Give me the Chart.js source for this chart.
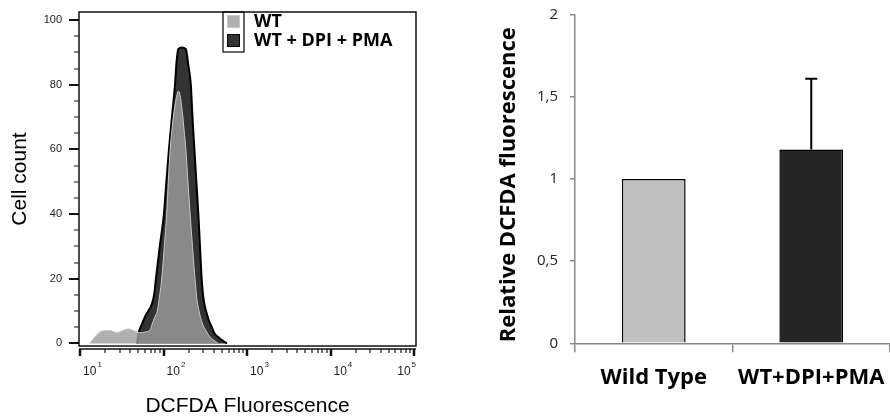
<!DOCTYPE html>
<html>
<head>
<meta charset="utf-8">
<script src="https://cdn.jsdelivr.net/npm/chart.js@4.4.1/dist/chart.umd.min.js"></script>
<style>
  body { margin: 0; background: #fff; overflow: hidden; }
  #wrap { position: relative; width: 890px; height: 419px; }
  #histo { position: absolute; left: 0; top: 0; }
  #bars { position: absolute; left: 450px; top: 0; }
</style>
</head>
<body>
<div id="wrap">
  <canvas id="histo" width="450" height="419"></canvas>
  <canvas id="bars" width="440" height="419"></canvas>
</div>
<script>
// ---- histogram (flow cytometry overlay) ----
const wtX = [13, 15, 18, 21, 23, 26, 28, 31, 34, 38, 43, 48, 55, 62, 69, 73, 78, 84, 90, 95, 102, 109, 114, 120, 127, 134, 145, 151, 157, 167, 176, 185, 196, 208, 222, 238, 250, 266, 285, 305, 330, 360, 400, 450];
const wtCount = [0, 2, 3.8, 4, 4, 3.5, 3.4, 3.8, 4.2, 4.5, 4, 3.5, 3.3, 3.6, 4.2, 6, 8, 10, 15, 20, 30, 40, 50, 60, 67, 72, 77, 78, 77, 72, 66, 60, 50, 40, 30, 20, 14, 10, 7, 5, 3.5, 2, 1, 0];

const dpiX = [48, 50, 55, 62, 72, 77, 81, 90, 101, 108, 116, 126, 137, 143, 150, 165, 185, 198, 212, 222, 234, 247, 261, 273, 286, 300, 323, 350, 378, 410, 450, 520, 575];
const dpiCount = [0, 3, 6, 9, 12, 15, 20, 30, 40, 50, 60, 70, 80, 87, 91, 91.5, 91, 86, 80, 70, 60, 50, 40, 30, 20, 14, 10, 7, 5, 3, 2, 0.7, 0];

const logTicks = [10, 100, 1000, 10000, 100000];
const countTicks = [0, 20, 40, 60, 80, 100];

// ---- bar chart ----
const groups = ['Wild Type', 'WT+DPI+PMA'];
const relFluor = [1, 1.18];
const relErr = [0, 0.43];
const relTicks = [0, 0.5, 1, 1.5, 2];

function toPoints(xs, ys) {
  return xs.map((x, i) => ({ x: x, y: ys[i] }));
}

// fixed scale size, and no extra room for overflowing labels
function fixSize(w, h) {
  return (s) => {
    if (w !== null) s.width = w;
    if (h !== null) s.height = h;
    s.paddingTop = s.paddingBottom = s.paddingLeft = s.paddingRight = 0;
  };
}

// box, tick marks, 10^n labels and legend of the histogram
const histoFrame = {
  id: 'histoFrame',
  afterDraw(chart) {
    const { ctx, chartArea: a, scales: { x, y } } = chart;
    ctx.save();
    ctx.strokeStyle = '#111';
    ctx.lineWidth = 1.5;
    ctx.strokeRect(a.left, a.top, a.right - a.left, a.bottom - a.top);

    // y ticks every 5, long ones at the labels
    for (let v = 0; v <= 100; v += 5) {
      const py = Math.round(y.getPixelForValue(v));
      const major = v % 20 === 0;
      ctx.lineWidth = major ? 2 : 1;
      ctx.beginPath();
      ctx.moveTo(a.left - (major ? 10 : 5), py);
      ctx.lineTo(a.left, py);
      ctx.stroke();
    }

    // x axis under the box with log ticks
    const ay = a.bottom + 3;
    ctx.lineWidth = 1.5;
    ctx.beginPath();
    ctx.moveTo(a.left, ay);
    ctx.lineTo(a.right, ay);
    ctx.stroke();
    for (let d = 10; d <= 100000; d *= 10) {
      for (let m = 1; m <= 9; m++) {
        const v = d * m;
        if (v > 100000) break;
        const px = Math.round(x.getPixelForValue(v));
        const major = m === 1;
        ctx.lineWidth = major ? 2.5 : 1.2;
        ctx.beginPath();
        ctx.moveTo(px, ay);
        ctx.lineTo(px, ay + (major ? 7 : 4));
        ctx.stroke();
      }
    }

    // decade labels: "10" with a raised exponent
    ctx.fillStyle = '#222';
    ctx.textBaseline = 'alphabetic';
    ctx.textAlign = 'left';
    logTicks.forEach((v) => {
      const exp = String(Math.round(Math.log10(v)));
      ctx.font = '12px "Liberation Sans"';
      const wBase = ctx.measureText('10').width;
      ctx.font = '8px "Liberation Sans"';
      const wExp = ctx.measureText(exp).width;
      let lx = x.getPixelForValue(v) + 3;
      if (lx + wBase + wExp + 1 > a.right) lx = a.right - wBase - wExp - 1;
      ctx.font = '12px "Liberation Sans"';
      ctx.fillText('10', lx, a.bottom + 29);
      ctx.font = '8px "Liberation Sans"';
      ctx.fillText(exp, lx + wBase + 1, a.bottom + 21);
    });

    // legend in the upper right corner
    const bx = a.left + 144, by = a.top;
    ctx.lineWidth = 1.2;
    ctx.strokeStyle = '#000';
    ctx.strokeRect(bx, by, 21, 40);
    ctx.font = 'bold 18px "Open Sans"';
    ctx.textBaseline = 'middle';
    chart.data.datasets.forEach((ds, i) => {
      const sy = by + 3 + i * 19;
      ctx.fillStyle = ds.backgroundColor;
      ctx.fillRect(bx + 4, sy, 13, 13);
      ctx.strokeStyle = i === 0 ? '#c8c8c8' : '#000';
      ctx.lineWidth = 1;
      ctx.strokeRect(bx + 4.5, sy + 0.5, 12, 12);
      ctx.fillStyle = '#000';
      ctx.fillText(ds.label, bx + 31, sy + 7);
    });
    ctx.restore();
  }
};

new Chart(document.getElementById('histo'), {
  type: 'line',
  data: {
    datasets: [
      {
        label: 'WT',
        data: toPoints(wtX, wtCount),
        backgroundColor: 'rgba(158,158,158,0.81)',
        borderColor: '#c8c8c8',
        borderWidth: 1,
        fill: 'origin',
        pointRadius: 0,
        cubicInterpolationMode: 'monotone'
      },
      {
        label: 'WT + DPI + PMA',
        data: toPoints(dpiX, dpiCount),
        backgroundColor: '#333333',
        borderColor: '#000',
        borderWidth: 2,
        fill: 'origin',
        pointRadius: 0,
        cubicInterpolationMode: 'monotone'
      }
    ]
  },
  options: {
    responsive: false,
    animation: false,
    layout: { autoPadding: false, padding: { top: 12, right: 34, left: 0, bottom: 0 } },
    plugins: { legend: { display: false }, tooltip: { enabled: false } },
    scales: {
      x: {
        type: 'logarithmic',
        min: 9.7,
        max: 105700,
        afterBuildTicks: (s) => { s.ticks = logTicks.map(v => ({ value: v })); },
        afterFit: fixSize(null, 73),
        grid: { display: false, drawTicks: false },
        border: { display: false },
        ticks: { display: false },
        title: {
          display: true,
          text: 'DCFDA Fluorescence',
          color: '#000',
          font: { family: 'Liberation Sans', size: 21 },
          padding: { top: 0, bottom: 0 }
        }
      },
      y: {
        min: -0.8,
        max: 102.5,
        afterBuildTicks: (s) => { s.ticks = countTicks.map(v => ({ value: v })); },
        afterFit: fixSize(79, null),
        grid: { display: false, drawTicks: false },
        border: { display: false },
        ticks: {
          padding: 17,
          color: '#222',
          font: { family: 'Liberation Sans', size: 11 }
        },
        title: {
          display: true,
          text: 'Cell count',
          color: '#000',
          font: { family: 'Liberation Sans', size: 21 },
          padding: { top: 8, bottom: 0 }
        }
      }
    }
  },
  plugins: [histoFrame]
});

// error bar (upper half only) on top of the bars
const errorBars = {
  id: 'errorBars',
  afterDatasetsDraw(chart) {
    const { ctx, scales: { y } } = chart;
    const meta = chart.getDatasetMeta(0);
    ctx.save();
    ctx.strokeStyle = '#000';
    ctx.lineWidth = 2;
    meta.data.forEach((bar, i) => {
      if (!relErr[i]) return;
      const top = y.getPixelForValue(relFluor[i] + relErr[i]);
      const base = y.getPixelForValue(relFluor[i]);
      ctx.beginPath();
      ctx.moveTo(bar.x, base);
      ctx.lineTo(bar.x, top);
      ctx.moveTo(bar.x - 6, top);
      ctx.lineTo(bar.x + 6, top);
      ctx.stroke();
    });
    ctx.restore();
  }
};

new Chart(document.getElementById('bars'), {
  type: 'bar',
  data: {
    labels: groups,
    datasets: [{
      data: relFluor,
      backgroundColor: ['#bfbfbf', '#262626'],
      borderColor: '#000',
      borderWidth: 1.5,
      barPercentage: 0.405,
      categoryPercentage: 1
    }]
  },
  options: {
    responsive: false,
    animation: false,
    layout: { autoPadding: false, padding: { top: 14.7, right: 0, left: 0, bottom: 0 } },
    plugins: { legend: { display: false }, tooltip: { enabled: false } },
    scales: {
      x: {
        afterFit: fixSize(null, 75.7),
        grid: { display: true, drawOnChartArea: false, drawTicks: true, tickLength: 9, color: '#888', offset: true, lineWidth: 1.5 },
        border: { color: '#888', width: 1.5 },
        ticks: {
          padding: 12,
          color: '#000',
          font: { family: 'Open Sans', weight: 'bold', size: 22 }
        }
      },
      y: {
        min: 0,
        max: 2,
        afterBuildTicks: (s) => { s.ticks = relTicks.map(v => ({ value: v })); },
        afterFit: fixSize(125, null),
        grid: { display: true, drawOnChartArea: false, drawTicks: true, tickLength: 5, color: '#888', lineWidth: 1.5 },
        border: { color: '#888', width: 1.5 },
        ticks: {
          padding: 12,
          color: '#222',
          font: { family: 'Open Sans', size: 15 },
          callback: (v) => String(v).replace('.', ',')
        },
        title: {
          display: true,
          // two trailing no-break spaces nudge the rotated title down a little
          text: 'Relative DCFDA fluorescence\u00a0\u00a0',
          color: '#000',
          font: { family: 'Open Sans', weight: 'bold', size: 22 },
          padding: { top: 46, bottom: 0 }
        }
      }
    }
  },
  plugins: [errorBars]
});
</script>
</body>
</html>
